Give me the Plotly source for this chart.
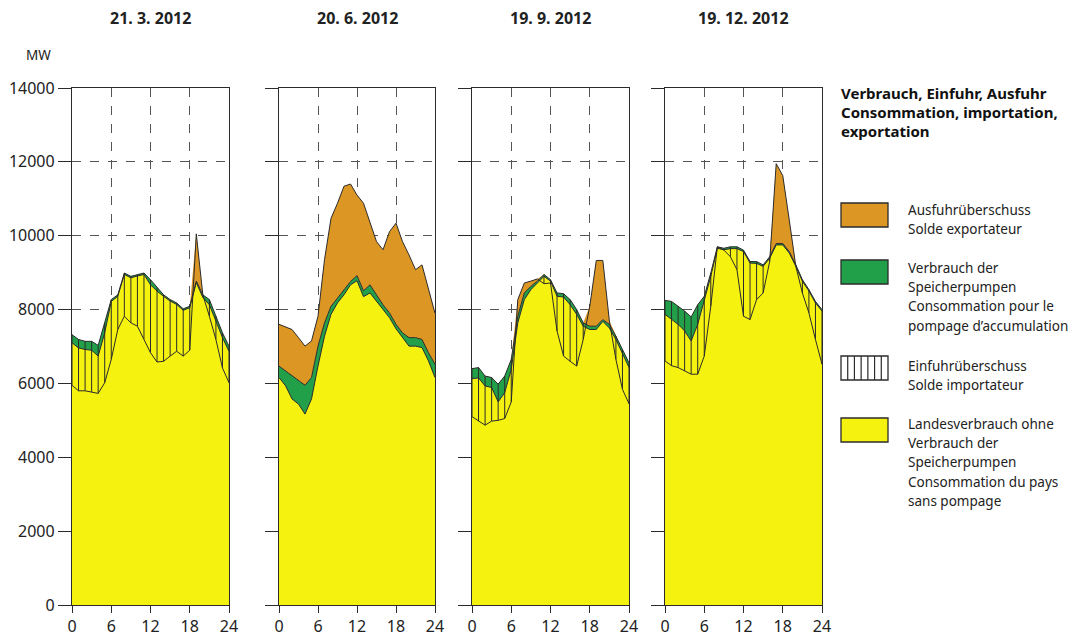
import plotly.graph_objects as go

# ---------------- data (MW, hourly 0..24) ----------------
hours = list(range(25))
dates = ["21. 3. 2012", "20. 6. 2012", "19. 9. 2012", "19. 12. 2012"]
y_ticks = [0, 2000, 4000, 6000, 8000, 10000, 12000, 14000]
x_ticks = [0, 6, 12, 18, 24]

# Landesverbrauch ohne Speicherpumpen
land_mar = [7100, 6960, 6920, 6900, 6740, 7370, 8220, 8360, 8950, 8860, 8910, 8950, 8670,
            8500, 8360, 8230, 8140, 7980, 8050, 8730, 8330, 8130, 7690, 7240, 6870]
land_jun = [6160, 5940, 5580, 5440, 5170, 5580, 6470, 7280, 7870, 8180, 8400, 8670, 8780,
            8350, 8450, 8220, 8000, 7780, 7480, 7240, 7010, 7010, 6970, 6610, 6160]
land_sep = [6130, 6150, 5930, 5890, 5500, 5750, 6380, 7640, 8270, 8540, 8720, 8900, 8770,
            8360, 8340, 8130, 7870, 7550, 7460, 7460, 7680, 7500, 7190, 6830, 6430]
land_dec = [7870, 7730, 7600, 7420, 7150, 7600, 8220, 8900, 9660, 9620, 9650, 9650, 9570,
            9260, 9250, 9170, 9390, 9750, 9750, 9530, 9170, 8770, 8500, 8180, 7960]

# Verbrauch der Speicherpumpen
pump_mar = [220, 230, 220, 240, 290, 270, 50, 40, 40, 40, 40, 40, 140,
            90, 40, 40, 40, 40, 40, 40, 70, 140, 130, 130, 140]
pump_jun = [310, 400, 620, 630, 780, 580, 540, 360, 220, 130, 140, 90, 140,
            160, 220, 180, 130, 130, 120, 130, 230, 230, 220, 220, 360]
pump_sep = [270, 280, 270, 270, 480, 450, 270, 180, 180, 90, 50, 50, 40,
            90, 90, 140, 130, 90, 90, 90, 50, 100, 90, 90, 130]
pump_dec = [380, 490, 490, 540, 650, 530, 140, 90, 40, 40, 50, 50, 40,
            40, 50, 40, 40, 40, 40, 40, 40, 40, 40, 40, 40]

# Landeserzeugung (Verbrauch + Ausfuhr - Einfuhr)
prod_mar = [5950, 5800, 5800, 5770, 5730, 6020, 6650, 7460, 7820, 7640, 7550, 7190, 6830,
            6580, 6600, 6740, 6870, 6740, 6900, 10050, 8400, 7820, 7190, 6420, 6020]
prod_jun = [7600, 7530, 7460, 7240, 7010, 7150, 7820, 9350, 10470, 10880, 11340, 11400, 11100,
            10880, 10340, 9840, 9620, 10110, 10340, 9840, 9480, 9080, 9210, 8540, 7900]
prod_sep = [5100, 4980, 4870, 4980, 5000, 5050, 5500, 8270, 8720, 8770, 8830, 8700, 8720,
            7420, 6740, 6600, 6470, 7190, 8090, 9330, 9330, 7690, 6650, 5840, 5450]
prod_dec = [6610, 6480, 6430, 6340, 6250, 6250, 6740, 8090, 9700, 9610, 9430, 9080, 7820,
            7730, 8270, 8450, 9300, 11950, 11630, 10420, 9170, 8450, 7910, 7190, 6520]

lands = [land_mar, land_jun, land_sep, land_dec]
pumps = [pump_mar, pump_jun, pump_sep, pump_dec]
prods = [prod_mar, prod_jun, prod_sep, prod_dec]

legend_title = ["Verbrauch, Einfuhr, Ausfuhr", "Consommation, importation,", "exportation"]
legend_labels = [
    ["Ausfuhrüberschuss", "Solde exportateur"],
    ["Verbrauch der", "Speicherpumpen", "Consommation pour le", "pompage d’accumulation"],
    ["Einfuhrüberschuss", "Solde importateur"],
    ["Landesverbrauch ohne", "Verbrauch der", "Speicherpumpen", "Consommation du pays", "sans pompage"],
]

# ---------------- style ----------------
YELLOW = "#F6F20F"
GREEN = "#22A049"
ORANGE = "#DB9624"
DARK = "#2b2b2b"
TXT = "#222222"
FONT = "Noto Sans"

# the page body has an 8px margin: the figure is placed at (8, 8) in the window
OFF = 8
W, H = 1080 - OFF, 638 - OFF


def px(xw):
    return (xw - OFF) / W


def py(yw):
    return (H - (yw - OFF)) / H


x_px = [(72, 229), (279, 435), (472, 629), (665, 822)]
y_dom = [py(605), py(88)]

fig = go.Figure()

for i in range(4):
    xa = "x" if i == 0 else f"x{i+1}"
    ya = "y" if i == 0 else f"y{i+1}"
    land, pump, prod = lands[i], pumps[i], prods[i]
    cons = [l + p for l, p in zip(land, pump)]
    top = [max(p, c) for p, c in zip(prod, cons)]

    fig.add_trace(go.Scatter(x=hours, y=land, mode="lines", fill="tozeroy",
                             fillcolor=YELLOW, line=dict(color=DARK, width=1),
                             xaxis=xa, yaxis=ya, showlegend=False, hoverinfo="skip"))
    fig.add_trace(go.Scatter(x=hours, y=cons, mode="lines", fill="tonexty",
                             fillcolor=GREEN, line=dict(color=DARK, width=1),
                             xaxis=xa, yaxis=ya, showlegend=False, hoverinfo="skip"))
    fig.add_trace(go.Scatter(x=hours, y=top, mode="lines", fill="tonexty",
                             fillcolor=ORANGE, line=dict(color=DARK, width=0),
                             xaxis=xa, yaxis=ya, showlegend=False, hoverinfo="skip"))
    hx, hy = [], []
    for h, p, c in zip(hours, prod, cons):
        if p < c:
            hx += [h, h, None]
            hy += [p, c, None]
    fig.add_trace(go.Scatter(x=hx, y=hy, mode="lines", line=dict(color=DARK, width=1),
                             xaxis=xa, yaxis=ya, showlegend=False, hoverinfo="skip"))
    fig.add_trace(go.Scatter(x=hours, y=prod, mode="lines", line=dict(color=DARK, width=1),
                             xaxis=xa, yaxis=ya, showlegend=False, hoverinfo="skip"))

    x0, x1 = x_px[i]
    key_x = "xaxis" if i == 0 else f"xaxis{i+1}"
    key_y = "yaxis" if i == 0 else f"yaxis{i+1}"
    fig.layout[key_x] = dict(
        domain=[px(x0), px(x1)], range=[0, 24], anchor=ya, automargin=False,
        tickvals=x_ticks, ticks="outside", ticklen=7, tickwidth=1.3, tickcolor=DARK,
        showline=True, linecolor=DARK, linewidth=1.3, mirror=True,
        showgrid=True, gridcolor="#555555", griddash="dash", gridwidth=1,
        zeroline=False, tickfont=dict(family=FONT, size=16, color=TXT),
        fixedrange=True)
    fig.layout[key_y] = dict(
        domain=list(y_dom), range=[0, 14000], anchor=xa, automargin=False,
        tickvals=y_ticks, ticktext=[str(v) for v in y_ticks],
        showticklabels=(i == 0),
        ticks="outside", ticklen=13, tickwidth=1.3, tickcolor=DARK,
        showline=True, linecolor=DARK, linewidth=1.3, mirror=True,
        showgrid=True, gridcolor="#555555", griddash="dash", gridwidth=1,
        zeroline=False, tickfont=dict(family=FONT, size=16, color=TXT),
        fixedrange=True)
    fig.add_annotation(x=px((x0 + x1) / 2), y=py(18), xref="paper", yref="paper",
                       text=f"<b>{dates[i]}</b>", showarrow=False,
                       font=dict(family=FONT, size=16, color=TXT),
                       xanchor="center", yanchor="middle")

fig.add_annotation(x=px(38), y=py(55), xref="paper", yref="paper", text="MW",
                   showarrow=False, font=dict(family=FONT, size=13.5, color=TXT),
                   xanchor="center", yanchor="middle")

# ---------------- legend (manual) ----------------
for k, line in enumerate(legend_title):
    fig.add_annotation(x=px(839), y=py(93 + 19 * k), xref="paper", yref="paper",
                       text=f"<b>{line}</b>", showarrow=False, xanchor="left", yanchor="middle",
                       font=dict(family=FONT, size=15, color="#111111"))

swatch_tops = [203, 260, 356, 418]
text_first = [210, 268, 366, 424]
swatch_colors = [ORANGE, GREEN, None, YELLOW]
for color, ytop, ytxt, lines in zip(swatch_colors, swatch_tops, text_first, legend_labels):
    fig.add_shape(type="rect", xref="paper", yref="paper",
                  x0=px(841), x1=px(888), y0=py(ytop + 24), y1=py(ytop),
                  fillcolor=color if color else "white", line=dict(color=DARK, width=1.3))
    if color is None:
        for k in range(1, 7):
            xx = px(841 + k * 47 / 7)
            fig.add_shape(type="line", xref="paper", yref="paper",
                          x0=xx, x1=xx, y0=py(ytop + 24), y1=py(ytop),
                          line=dict(color=DARK, width=1.2))
    for k, line in enumerate(lines):
        fig.add_annotation(x=px(906), y=py(ytxt + 19.2 * k), xref="paper", yref="paper",
                           text=line, showarrow=False, xanchor="left", yanchor="middle",
                           font=dict(family=FONT, size=13.5, color=TXT))

fig.update_layout(width=W, height=H, margin=dict(l=0, r=0, t=0, b=0),
                  paper_bgcolor="white", plot_bgcolor="white",
                  showlegend=False)

fig.write_html("out.html")
